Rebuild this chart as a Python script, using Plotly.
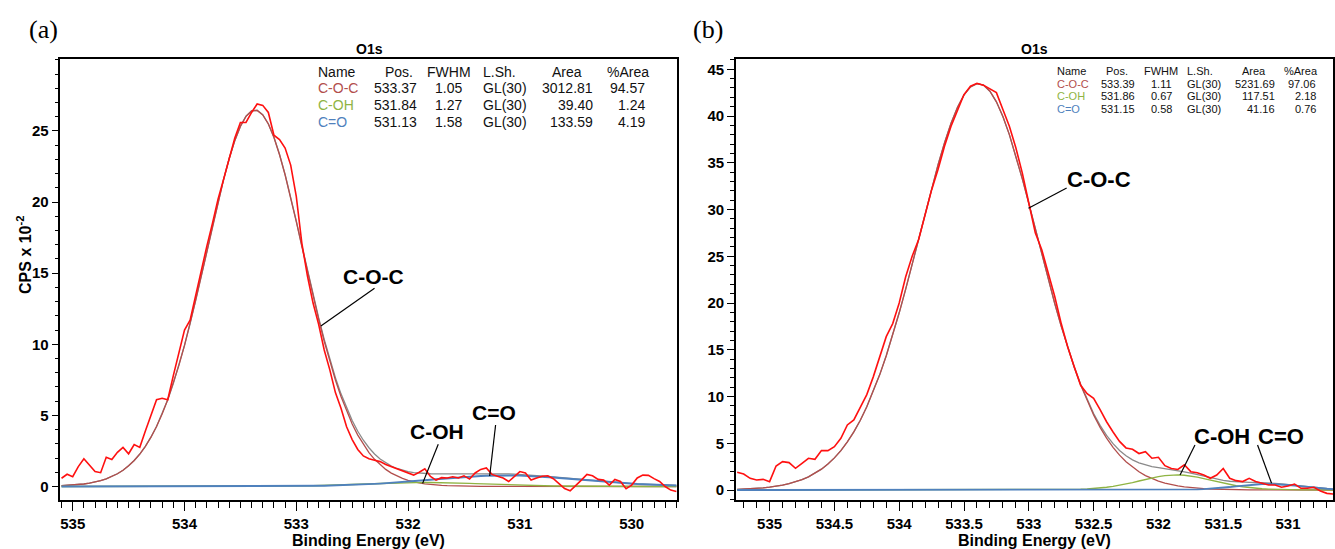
import numpy as np
import plotly.graph_objects as go

SANS = "Liberation Sans, Arial, sans-serif"
SERIF = "Liberation Serif, Times New Roman, serif"
W, H = 1335, 549

# ---------------- measured O 1s spectra (CPS x 10^-2), 0.05 eV steps ----------------
a_start, a_step = 535.10, 0.05
a_counts = [
    0.58, 0.86, 0.69, 1.40, 1.95, 1.50, 1.05, 0.97, 2.05, 1.90,
    2.40, 2.75, 2.30, 2.95, 2.75, 3.90, 5.00, 6.10, 6.20, 6.10,
    7.80, 9.50, 11.0, 11.7, 13.5, 15.2, 16.9, 18.5, 20.2, 21.6,
    23.0, 24.5, 25.6, 25.6, 26.3, 26.9, 26.8, 26.3, 24.7, 24.4,
    23.8, 22.6, 20.4, 17.1, 14.8, 12.9, 11.4, 9.6, 8.2, 6.6,
    5.5, 4.2, 3.3, 2.6, 2.15, 1.95, 1.85, 1.75, 1.55, 1.40,
    1.20, 1.05, 0.90, 0.80, 1.00, 1.25, 0.70, 0.45, 0.62, 0.60,
    0.68, 0.60, 0.75, 0.52, 0.95, 1.20, 1.30, 0.85, 0.72, 0.60,
    0.35, 0.70, 1.05, 0.95, 0.45, 0.60, 0.72, 0.75, 0.55, 0.20,
    -0.15, -0.30, 0.05, 0.45, 0.85, 0.75, 0.50, 0.45, 0.10, 0.50,
    0.35, -0.15, 0.10, 0.60, 0.80, 0.78, 0.55, 0.35, 0.00, -0.25,
    -0.35,
]

b_start, b_step = 535.25, 0.05
b_counts = [
    1.89, 1.71, 1.25, 1.07, 1.14, 0.89, 2.57, 3.03, 2.93, 2.32,
    2.85, 3.39, 3.28, 4.21, 4.21, 4.64, 5.53, 6.96, 7.49, 8.92,
    10.2, 12.1, 14.3, 16.4, 17.8, 20.0, 22.8, 25.0, 26.8, 29.6,
    32.1, 34.3, 36.8, 38.9, 40.7, 42.3, 43.2, 43.5, 43.3, 42.9,
    42.5, 40.7, 38.9, 36.6, 33.9, 30.7, 27.5, 25.7, 23.2, 20.7,
    17.8, 15.3, 13.2, 11.2, 10.3, 9.8, 8.6, 7.3, 6.2, 5.2,
    4.5, 4.35, 3.9, 4.1, 3.4, 3.5, 2.6, 2.3, 2.2, 2.7,
    1.96, 1.85, 1.6, 1.25, 1.6, 2.3, 1.25, 1.0, 0.9, 1.25,
    0.9, 0.71, 0.54, 0.54, 0.29, 0.43, 0.64, 0.18, 0.18, 0.29,
    -0.1, -0.36, -0.43,
]

# ---------------- peak-fit components ----------------
comp_names = ["C-O-C", "C-OH", "C=O"]
line_shape = "GL(30)"

a_pos = [533.37, 531.84, 531.13]
a_fwhm = [1.05, 1.27, 1.58]
a_area = [3012.81, 39.40, 133.59]
a_pct = [94.57, 1.24, 4.19]

b_pos = [533.39, 531.86, 531.15]
b_fwhm = [1.11, 0.67, 0.58]
b_area = [5231.69, 117.51, 41.16]
b_pct = [97.06, 2.18, 0.76]

# tick labels
a_xticks = [535, 534, 533, 532, 531, 530]
b_xticks = [535, 534.5, 534, 533.5, 533, 532.5, 532, 531.5, 531]
a_yticks = [0, 5, 10, 15, 20, 25]
b_yticks = [0, 5, 10, 15, 20, 25, 30, 35, 40, 45]

COMP_COLORS = ["#b24e4c", "#8fb443", "#4f81bd"]
COMP_WIDTHS = [1.3, 1.4, 1.9]
RAW_COLOR = "#ff1010"
ENV_COLOR = "#8a8a8a"


def energies(start, step, n):
    return np.round(start - step * np.arange(n), 3)


def gl_component(energy, pos, fwhm, area, lorentz=0.30):
    """Gaussian/Lorentzian product line, scaled to the stated FWHM and area."""
    k = 4 * np.log(2) * (1 - lorentz)
    u = np.linspace(-40, 40, 800001)
    unit = np.exp(-k * u ** 2) / (1 + 4 * lorentz * u ** 2)
    above = u[unit >= 0.5]
    s = fwhm / (above.max() - above.min())
    height = area / (np.trapezoid(unit, u) * s) / 100.0  # CPS x 10^-2
    t = (np.asarray(energy) - pos) / s
    return height * np.exp(-k * t ** 2) / (1 + 4 * lorentz * t ** 2)


fig = go.Figure()


def add_panel(xa, ya, start, step, counts, pos, fwhm, area):
    e = energies(start, step, len(counts))
    comps = [gl_component(e, p, f, a) for p, f, a in zip(pos, fwhm, area)]
    envelope = np.sum(comps, axis=0)
    fig.add_trace(go.Scatter(x=e, y=envelope, mode="lines", xaxis=xa, yaxis=ya,
                             line=dict(color=ENV_COLOR, width=1.3), showlegend=False))
    for c, col, w in zip(comps, COMP_COLORS, COMP_WIDTHS):
        fig.add_trace(go.Scatter(x=e, y=c, mode="lines", xaxis=xa, yaxis=ya,
                                 line=dict(color=col, width=w), showlegend=False))
    fig.add_trace(go.Scatter(x=e, y=counts, mode="lines", xaxis=xa, yaxis=ya,
                             line=dict(color=RAW_COLOR, width=1.6), showlegend=False))


add_panel("x", "y", a_start, a_step, a_counts, a_pos, a_fwhm, a_area)
add_panel("x2", "y2", b_start, b_step, b_counts, b_pos, b_fwhm, b_area)

y_dom = [1 - 500 / H, 1 - 59 / H]
tickfont = dict(family=SANS, size=15, color="black")


def bold_labels(ticks):
    return [f"<b>{t:g}</b>" for t in ticks]


def xaxis(domain, rng, ticks, anchor):
    return dict(domain=domain, range=rng, anchor=anchor,
                tickmode="array", tickvals=ticks, ticktext=bold_labels(ticks),
                ticks="outside", ticklen=9, tickwidth=1.4, tickcolor="black",
                minor=dict(tickmode="linear", tick0=0, dtick=0.1, ticks="outside",
                           ticklen=6, tickwidth=1.2, tickcolor="black"),
                showline=True, linewidth=1.6, linecolor="black", mirror=True,
                showgrid=False, zeroline=False,
                tickfont=tickfont)


def yaxis(rng, ticks, anchor):
    return dict(domain=y_dom, range=rng, anchor=anchor,
                tickmode="array", tickvals=ticks, ticktext=bold_labels(ticks),
                ticks="outside", ticklen=7, tickwidth=1.4, tickcolor="black",
                minor=dict(tickmode="linear", tick0=0, dtick=1, ticks="outside",
                           ticklen=4, tickwidth=1.1, tickcolor="black"),
                showline=True, linewidth=1.6, linecolor="black", mirror=True,
                showgrid=False, zeroline=False,
                tickfont=tickfont)


fig.update_layout(
    width=W, height=H,
    margin=dict(l=0, r=0, t=0, b=0),
    paper_bgcolor="white", plot_bgcolor="white",
    xaxis=xaxis([60.5 / W, 678.5 / W], [535.11, 529.59], a_xticks, "y"),
    yaxis=yaxis([-0.95, 30.06], a_yticks, "x"),
    xaxis2=xaxis([737 / W, 1.0], [535.26, 530.653], b_xticks, "y2"),
    yaxis2=yaxis([-1.07, 46.1], b_yticks, "x2"),
)


def text(px, py, s, size, color="black", anchor="center", bold=False,
         family=SANS, angle=0):
    if bold:
        s = f"<b>{s}</b>"
    fig.add_annotation(x=px / W, y=1 - py / H, xref="paper", yref="paper",
                       text=s, showarrow=False, xanchor=anchor, yanchor="middle",
                       textangle=angle, borderpad=0,
                       font=dict(family=family, size=size, color=color))


# panel letters, titles and axis titles
text(44, 30, "(a)", 26, family=SERIF)
text(709, 30, "(b)", 26, family=SERIF)
text(370, 49, "O1s", 14, bold=True)
text(1036, 49, "O1s", 14, bold=True)
text(369.5, 540, "Binding Energy (eV)", 16, bold=True)
text(1036, 540, "Binding Energy (eV)", 16, bold=True)
text(24, 255, "CPS x 10<sup>-2</sup>", 16, bold=True, angle=-90)


# fit tables
def table(rows_y, cols, size, pos, fwhm, area, pct):
    name_x, pos_h, pos_v, fw_h, fw_v, ls_x, ar_h, ar_v, pc_h, pc_v = cols
    y0 = rows_y[0]
    text(name_x, y0, "Name", size, "#111", "left")
    text(pos_h, y0, "Pos.", size, "#111", "right")
    text(fw_h, y0, "FWHM", size, "#111", "right")
    text(ls_x, y0, "L.Sh.", size, "#111", "left")
    text(ar_h, y0, "Area", size, "#111", "right")
    text(pc_h, y0, "%Area", size, "#111", "right")
    for i, nm in enumerate(comp_names):
        y = rows_y[i + 1]
        text(name_x, y, nm, size, COMP_COLORS[i], "left")
        text(pos_v, y, f"{pos[i]:.2f}", size, "#111", "right")
        text(fw_v, y, f"{fwhm[i]:.2f}", size, "#111", "right")
        text(ls_x, y, line_shape, size, "#111", "left")
        text(ar_v, y, f"{area[i]:.2f}", size, "#111", "right")
        text(pc_v, y, f"{pct[i]:.2f}", size, "#111", "right")


table([71.7, 88.3, 105, 121.7],
      (317, 415, 419, 473, 464, 483, 584, 595, 651, 647), 14,
      a_pos, a_fwhm, a_area, a_pct)
table([71.5, 84, 96.5, 109],
      (1057.5, 1131, 1137.5, 1181, 1174.5, 1188, 1268.5, 1277.5, 1321, 1318.5), 11,
      b_pos, b_fwhm, b_area, b_pct)

# peak labels with leader lines (data coordinates)
labels = [
    # xaxis, yaxis, text, text_x, text_y, line from (x0,y0) to (x1,y1), size
    ("x", "y", "C-O-C", 532.31, 14.8, 532.30, 13.94, 532.78, 11.29, 21),
    ("x", "y", "C-OH", 531.74, 3.9, 531.73, 2.97, 531.87, 0.22, 21),
    ("x", "y", "C=O", 531.235, 5.2, 531.217, 4.32, 531.27, 0.74, 21),
    ("x2", "y2", "C-O-C", 532.457, 33.2, 532.708, 32.3, 533.003, 30.14, 22),
    ("x2", "y2", "C-OH", 531.507, 5.71, 531.718, 4.82, 531.833, 1.61, 22),
    ("x2", "y2", "C=O", 531.056, 5.71, 531.235, 4.82, 531.127, 0.72, 22),
]
for xa, ya, s, tx, ty, x0, y0, x1, y1, fs in labels:
    fig.add_shape(type="line", xref=xa, yref=ya, x0=x0, y0=y0, x1=x1, y1=y1,
                  line=dict(color="black", width=1.2))
    fig.add_annotation(x=tx, y=ty, xref=xa, yref=ya, text=f"<b>{s}</b>",
                       showarrow=False, xanchor="center", yanchor="middle",
                       font=dict(family=SANS, size=fs, color="black"))

fig.write_html("out.html")
